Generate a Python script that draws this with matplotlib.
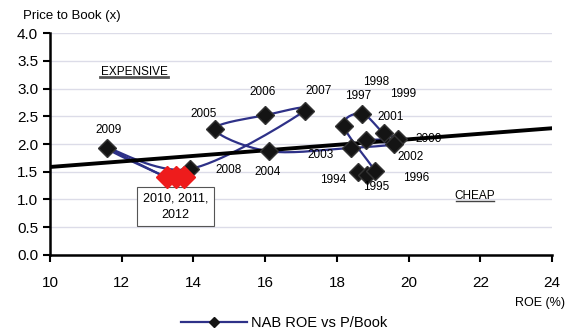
import numpy as np
import matplotlib
matplotlib.use('Agg')
import matplotlib.pyplot as plt

plt.rcParams['font.family'] = ['Liberation Sans', 'DejaVu Sans']

# NAB return on equity (%) vs price to book (x)
years = [1994, 1995, 1996, 1997, 1998, 1999, 2000, 2001, 2002, 2003,
         2004, 2005, 2006, 2007, 2008, 2009, 2010, 2011, 2012]
roe = [18.6, 18.85, 19.05, 18.2, 18.7, 19.3, 19.7, 18.8, 19.6, 18.4,
       16.1, 14.6, 16.0, 17.1, 13.9, 11.6, 13.25, 13.5, 13.75]
pbook = [1.5, 1.45, 1.52, 2.32, 2.55, 2.2, 2.1, 2.07, 2.0, 1.93,
         1.87, 2.27, 2.52, 2.6, 1.55, 1.93, 1.4, 1.4, 1.4]
recent_years = [2010, 2011, 2012]

# label offsets (points) for each year tag
label_offsets = {
    1994: (-18, -6), 1995: (6, -9), 1996: (30, -5), 1997: (10, 22),
    1998: (10, 23), 1999: (14, 28), 2000: (22, 0), 2001: (18, 17),
    2002: (12, -9), 2003: (-22, -5), 2004: (-1, -15), 2005: (-8, 11),
    2006: (-2, 17), 2007: (10, 14), 2008: (28, -1), 2009: (1, 13),
}

navy = '#2e3188'


def smooth_path(x, y, steps=20):
    # Excel style smoothed line (Catmull-Rom through the points)
    px = np.concatenate([[x[0]], x, [x[-1]]])
    py = np.concatenate([[y[0]], y, [y[-1]]])
    t = np.linspace(0, 1, steps)
    xs, ys = [], []
    for i in range(1, len(px) - 2):
        for p, out in ((px, xs), (py, ys)):
            p0, p1, p2, p3 = p[i - 1], p[i], p[i + 1], p[i + 2]
            out.extend(0.5 * (2 * p1 + (-p0 + p2) * t
                              + (2 * p0 - 5 * p1 + 4 * p2 - p3) * t ** 2
                              + (-p0 + 3 * p1 - 3 * p2 + p3) * t ** 3))
    return np.array(xs), np.array(ys)


x = np.array(roe)
y = np.array(pbook)
recent = np.array([yr in recent_years for yr in years])

fig = plt.figure(figsize=(5.68, 3.35), dpi=100)
ax = fig.add_axes([0.088, 0.239, 0.884, 0.662])

ax.set_xlim(10, 24)
ax.set_ylim(0, 4)
ax.set_xticks(np.arange(10, 25, 2))
ax.set_yticks(np.arange(0, 4.01, 0.5))
ax.set_yticklabels([f'{v:.1f}' for v in np.arange(0, 4.01, 0.5)])
ax.tick_params(axis='both', labelsize=11, length=5, width=1.5, direction='out')
ax.tick_params(axis='x', pad=10)
ax.grid(axis='y', color='#dcdce8', linewidth=1)
ax.set_axisbelow(True)
for side in ('top', 'right'):
    ax.spines[side].set_visible(False)
for side in ('left', 'bottom'):
    ax.spines[side].set_linewidth(1.8)

# smoothed path through the years
n_old = len(years) - len(recent_years)
sx, sy = smooth_path(x[:n_old + 1], y[:n_old + 1])
ax.plot(sx, sy, color=navy, linewidth=1.6, zorder=3)
rx, ry = smooth_path(x[n_old - 1:], y[n_old - 1:])
ax.plot(rx, ry, color=navy, linewidth=1.6, zorder=3)

# linear trend
coef = np.polyfit(x, y, 1)
tx = np.array([10, 24])
ax.plot(tx, np.polyval(coef, tx), color='black', linewidth=2.8, zorder=4)

ax.plot(x[~recent], y[~recent], linestyle='none', marker='D', markersize=9.5,
        color='#141414', markeredgecolor='#333333', zorder=5)
ax.plot(x[recent], y[recent], color='#ee1c1c', linewidth=3, marker='D',
        markersize=11, markeredgecolor='#ee1c1c', zorder=6)

for yr, xi, yi in zip(years, x, y):
    if yr in label_offsets:
        ax.annotate(str(yr), (xi, yi), xytext=label_offsets[yr],
                    textcoords='offset points', ha='center', va='center',
                    fontsize=8.5, zorder=7)

ax.annotate('2010, 2011,\n2012', (x[recent].mean(), y[recent].mean()),
            xytext=(0, -21), textcoords='offset points', ha='center',
            va='center', fontsize=9, linespacing=1.45, zorder=4.5,
            bbox=dict(boxstyle='square,pad=0.45', facecolor='white',
                      edgecolor='#555555', linewidth=0.8))

ax.text(12.35, 3.3, 'EXPENSIVE', fontsize=8.5, ha='center', va='center')
ax.plot([11.4, 13.3], [3.21, 3.21], color='#555555', linewidth=2)
ax.text(21.85, 1.06, 'CHEAP', fontsize=8.5, ha='center', va='center')
ax.plot([21.33, 22.37], [0.97, 0.97], color='#444444', linewidth=1)

fig.text(0.04, 0.952, 'Price to Book (x)', fontsize=9.5, ha='left', va='center')
fig.text(0.995, 0.095, 'ROE (%)', fontsize=9, ha='right', va='center')

fig.legend([plt.Line2D([], [], color=navy, linewidth=1.6, marker='D',
                       markersize=5, markerfacecolor='#141414',
                       markeredgecolor='#141414')],
           ['NAB ROE vs P/Book'], loc='center', bbox_to_anchor=(0.5, 0.035),
           frameon=False, fontsize=10.5, handlelength=4.5, handletextpad=0.3)

plt.savefig('out.png', dpi=100)
